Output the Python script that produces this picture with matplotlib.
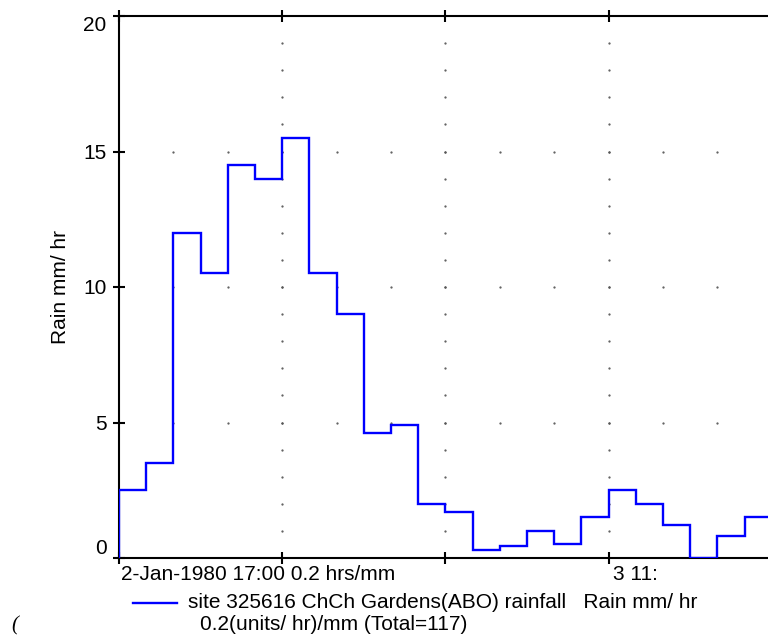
import matplotlib
matplotlib.use("Agg")
import matplotlib.pyplot as plt
import numpy as np

plt.rcParams["font.family"] = ["Liberation Sans", "DejaVu Sans"]

# ─── data: rainfall steps (mm/hr), one per 0.2 hr bin ───
rain = [2.5, 3.5, 12.0, 10.5, 14.5, 14.0, 15.5, 10.5, 9.0, 4.6, 4.9, 2.0,
        1.7, 0.3, 0.45, 1.0, 0.5, 1.5, 2.5, 2.0, 1.2, 0.0, 0.8, 1.5]
edges = np.arange(len(rain) + 1)
y_ticks = [0, 5, 10, 15, 20]
x_major = [0, 6, 12, 18]
x_start_label = "2-Jan-1980 17:00 0.2 hrs/mm"
x_mid_label = "3 11:"
legend_line1 = "site 325616 ChCh Gardens(ABO) rainfall   Rain mm/ hr"
legend_line2 = "0.2(units/ hr)/mm (Total=117)"
y_label = "Rain mm/ hr"

FS = 15

fig = plt.figure(figsize=(7.68, 6.37), dpi=100)
ax = fig.add_axes([119 / 768, 79 / 637, 1 - 119 / 768, 542 / 637])

# dotted grid, drawn as sparse small dots
for gx in x_major[1:]:
    gy = np.arange(1, 20)
    ax.plot(np.full(len(gy), gx), gy, ls="none", marker=".", ms=1.2,
            color="#555555", zorder=1)
for gy in y_ticks[1:-1]:
    gx = np.arange(2, 25, 2)
    ax.plot(gx, np.full(len(gx), gy), ls="none", marker=".", ms=1.2,
            color="#555555", zorder=1)

ax.stairs(rain, edges, baseline=0, color="#0000ff", lw=1.7, zorder=3)

ax.set_xlim(0, 649 / 27.2)
ax.set_ylim(0, 20)

for side in ["left", "bottom", "top"]:
    ax.spines[side].set_linewidth(1.5)
ax.spines["right"].set_visible(False)

ax.set_yticks(y_ticks)
ax.set_xticks(x_major)
ax.set_xticklabels([])
ax.tick_params(axis="both", direction="inout", length=8, width=1.5,
               labelsize=FS, top=True, pad=2)
ax.tick_params(axis="y", pad=5)
labels = ax.get_yticklabels()
labels[0].set_va("bottom")
labels[-1].set_va("top")

ax.set_ylabel(y_label, fontsize=FS)
ax.yaxis.set_label_coords(-0.076, 0.5)

# x-axis annotations
ax.text(0.003, -0.012, x_start_label, transform=ax.transAxes,
        ha="left", va="top", fontsize=FS)
ax.text(18.15, -0.012, x_mid_label, transform=ax.get_xaxis_transform(),
        ha="left", va="top", fontsize=FS)

# legend-like footer
fig.add_artist(plt.Line2D([133 / 768, 177 / 768], [1 - 603 / 637, 1 - 603 / 637],
                          color="#0000ff", lw=1.7))
fig.text(188 / 768, 1 - 602 / 637, legend_line1, ha="left", va="center", fontsize=FS)
fig.text(200 / 768, 1 - 624 / 637, legend_line2, ha="left", va="center", fontsize=FS)
fig.text(11 / 768, 1 - 626 / 637, "(", ha="left", va="center", fontsize=FS,
         style="italic", family="Liberation Serif")

fig.savefig("out.png", dpi=100)
